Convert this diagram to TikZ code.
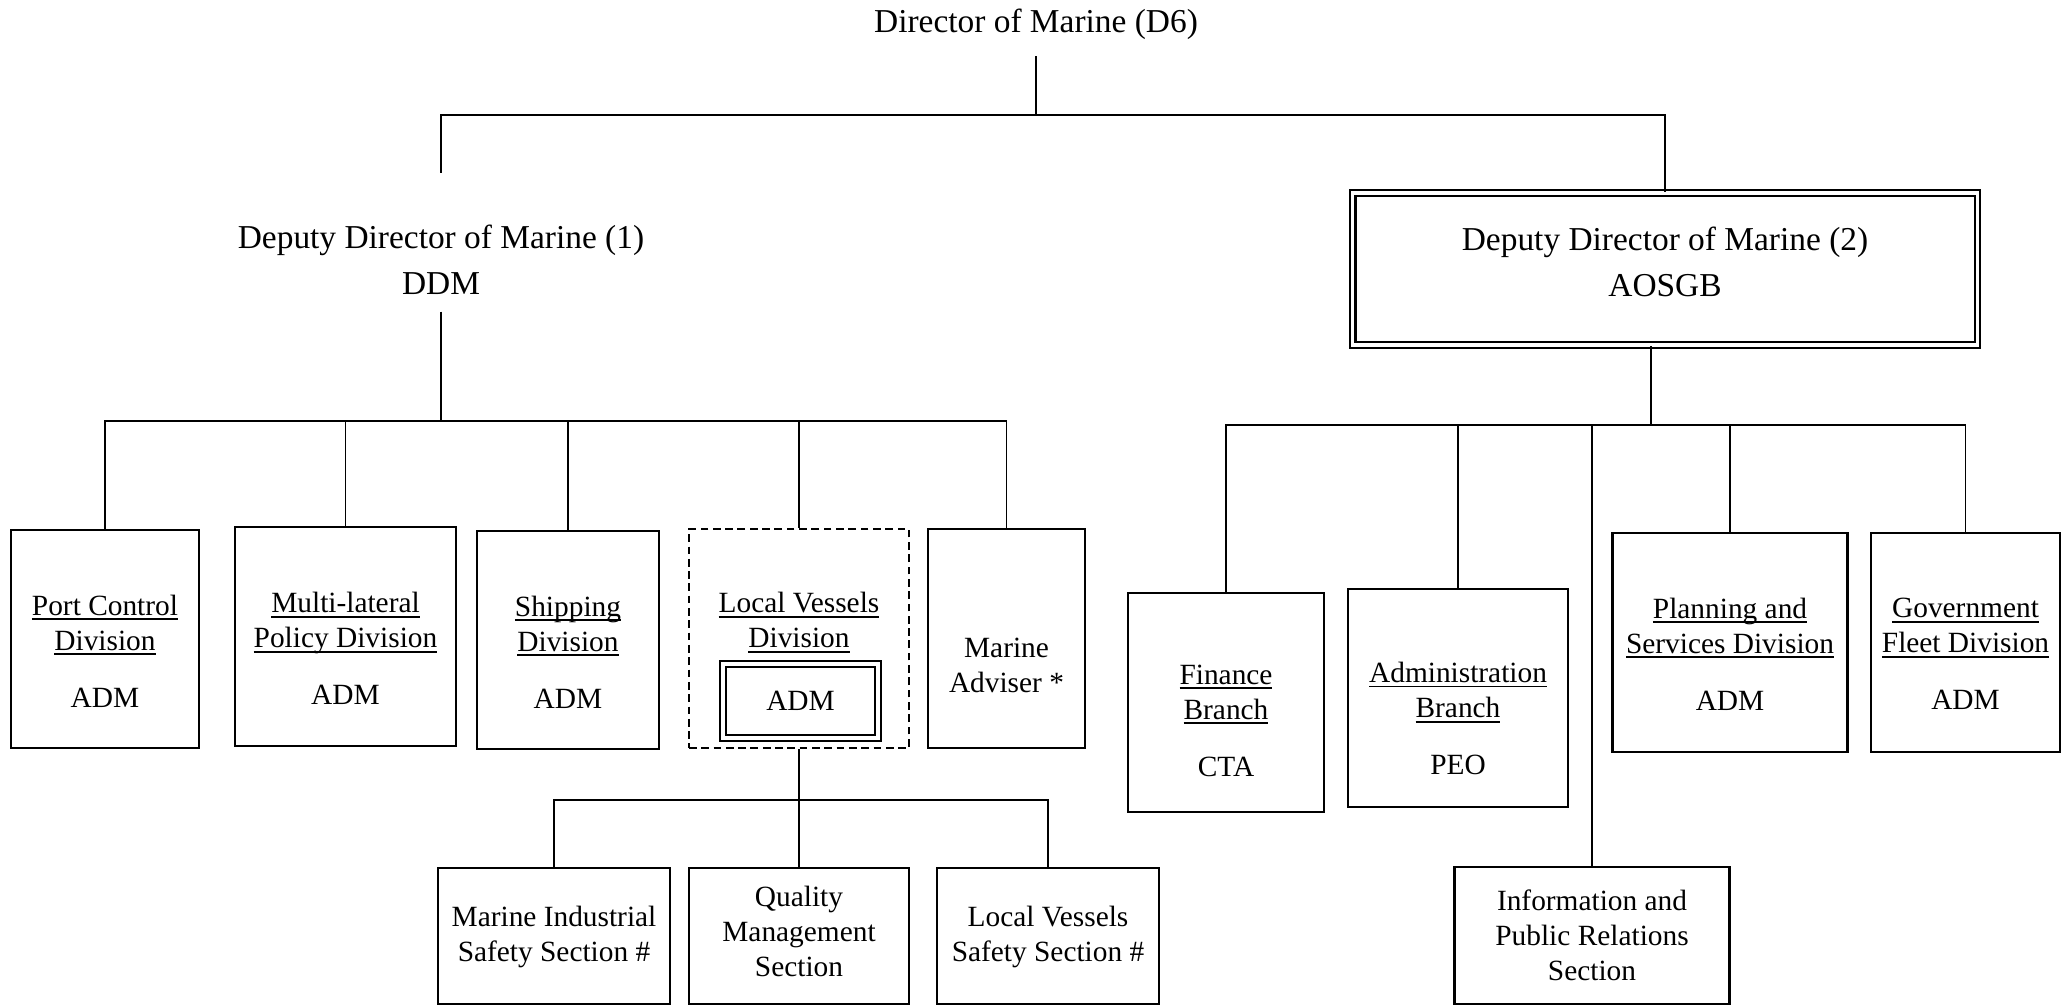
\documentclass[tikz,border=0pt]{standalone}
\usepackage{fontspec}
\setmainfont{Liberation Serif}

% underline sitting just below the baseline
\newsavebox{\ulbox}
\newcommand{\uln}[1]{\sbox{\ulbox}{#1}\rlap{\rule[-1.4pt]{\wd\ulbox}{0.5pt}}\usebox{\ulbox}}

\tikzset{
  headtext/.style={align=center, inner sep=0pt, font=\fontsize{9.5}{13.1}\selectfont},
  boxtext/.style={align=center, inner sep=0pt, font=\fontsize{8.35}{10}\selectfont},
  unitbox/.style={draw, line width=0.7pt, inner sep=0pt},
  dashbox/.style={draw, line width=0.6pt, dash pattern=on 2.2pt off 1.3pt, inner sep=0pt},
  dblbox/.style={draw, line width=0.6pt, double, double distance=0.9pt},
  link/.style={line width=0.5pt}
}

\begin{document}
\begin{tikzpicture}[x=0.01cm, y=-0.01cm]
  \useasboundingbox (0,0) rectangle (2064,1006);

  % Top level
  \node[headtext] (dir) at (1036,24) {Director of Marine (D6)};
  \coordinate (topbar) at (1036,115);

  % Deputy directors
  \node[headtext] (ddmA) at (441,260) {Deputy Director of Marine (1)\\DDM};
  \node[dblbox, minimum width=6.24cm, minimum height=1.52cm] (ddmB) at (1665,269) {};
  \node[headtext] (ddmB-t) at (1665,262) {Deputy Director of Marine (2)\\AOSGB};

  % Units under DDM
  \node[unitbox, minimum width=1.88cm, minimum height=2.18cm] (port) at (105,639) {};
  \node[boxtext] (port-t) at (105,651) {\uln{Port Control}\\\uln{Division}\\[6.2pt]ADM};

  \node[unitbox, minimum width=2.21cm, minimum height=2.19cm] (multi) at (345.5,636.5) {};
  \node[boxtext] (multi-t) at (345.5,648.5) {\uln{Multi-lateral}\\\uln{Policy Division}\\[6.2pt]ADM};

  \node[unitbox, minimum width=1.82cm, minimum height=2.18cm] (ship) at (568,640) {};
  \node[boxtext] (ship-t) at (568,652) {\uln{Shipping}\\\uln{Division}\\[6.2pt]ADM};

  \node[dashbox, minimum width=2.20cm, minimum height=2.19cm] (lvd) at (799,638.5) {};
  \node[boxtext] (lvd-t) at (799,622.5) {\uln{Local Vessels}\\\uln{Division}};
  \node[dblbox, boxtext, minimum width=1.55cm, minimum height=0.74cm] (lvdadm) at (800.5,701) {ADM};

  \node[unitbox, minimum width=1.57cm, minimum height=2.19cm] (adviser) at (1006.5,638.5) {};
  \node[boxtext] (adviser-t) at (1006.5,665) {Marine\\Adviser *};

  % Sections under Local Vessels Division
  \node[unitbox, minimum width=2.32cm, minimum height=1.36cm] (mis) at (554,936) {};
  \node[boxtext] (mis-t) at (554,937) {Marine Industrial\\Safety Section \#};

  \node[unitbox, minimum width=2.20cm, minimum height=1.36cm] (qms) at (799,936) {};
  \node[boxtext] (qms-t) at (799,931.5) {Quality\\Management\\Section};

  \node[unitbox, minimum width=2.22cm, minimum height=1.36cm] (lvss) at (1048,936) {};
  \node[boxtext] (lvss-t) at (1048,937) {Local Vessels\\Safety Section \#};

  % Units under AOSGB
  \node[unitbox, minimum width=1.96cm, minimum height=2.19cm] (fin) at (1226,702.5) {};
  \node[boxtext] (fin-t) at (1226,720.5) {\uln{Finance}\\\uln{Branch}\\[6.2pt]CTA};

  \node[unitbox, minimum width=2.20cm, minimum height=2.18cm] (adm) at (1458,698) {};
  \node[boxtext] (adm-t) at (1458,718.5) {\uln{Administration}\\\uln{Branch}\\[6.2pt]PEO};

  \node[unitbox, minimum width=2.75cm, minimum height=1.37cm] (info) at (1592,935.5) {};
  \node[boxtext] (info-t) at (1592,935) {Information and\\Public Relations\\Section};

  \node[unitbox, minimum width=2.35cm, minimum height=2.19cm] (plan) at (1730,642.5) {};
  \node[boxtext] (plan-t) at (1730,654) {\uln{Planning and}\\\uln{Services Division}\\[6.2pt]ADM};

  \node[unitbox, minimum width=1.89cm, minimum height=2.19cm] (gov) at (1965.5,642.5) {};
  \node[boxtext] (gov-t) at (1965.5,654) {\uln{Government}\\\uln{Fleet Division}\\[6.2pt]ADM};

  % Connectors
  \draw[link, shorten <=0.16cm] (dir.south) -- (topbar);
  \draw[link, shorten >=0.51cm] (topbar) -| (ddmA.north);
  \draw[link] (topbar) -| (ddmB.north);

  \coordinate (leftbar) at (441,421);
  \draw[link, shorten <=0.16cm] (ddmA.south) -- (leftbar);
  \foreach \unit in {port, multi, ship, lvd, adviser}
    \draw[link] (leftbar) -| (\unit.north);

  \coordinate (lvbar) at (799,800);
  \draw[link] (lvd.south) -- (lvbar);
  \foreach \unit in {mis, qms, lvss}
    \draw[link] (lvbar) -| (\unit.north);

  \coordinate (rightbar) at (1651,425);
  \draw[link] (rightbar |- ddmB.south) -- (rightbar);
  \foreach \unit in {fin, adm, info, plan, gov}
    \draw[link] (rightbar) -| (\unit.north);
\end{tikzpicture}
\end{document}
